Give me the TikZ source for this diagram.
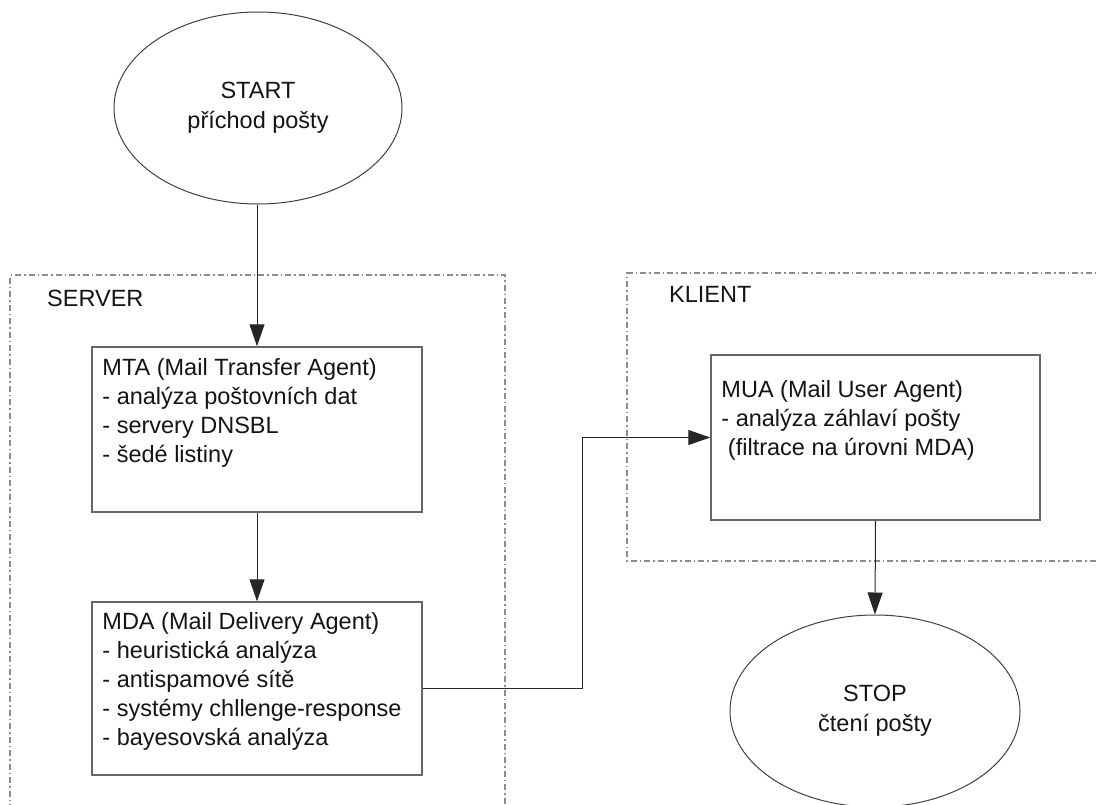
\documentclass[tikz,border=0pt]{standalone}
\usepackage{fontspec}
\setmainfont{Liberation Sans}
\usetikzlibrary{shapes.geometric,arrows.meta}

\tikzset{
  txt/.style={text=black!92, font=\fontsize{23.5}{29}\selectfont, inner sep=0pt},
  terminal/.style={ellipse, draw=black!75, line width=1pt, minimum width=288pt,
    minimum height=192pt, inner sep=0pt, align=center, txt},
  stepbox/.style={rectangle, draw=black!60, line width=1.5pt, inner sep=0pt},
  region/.style={draw=black!45, line width=1.2pt,
    dash pattern=on 6pt off 3pt on 1.5pt off 3pt},
  flow/.style={draw=black!85, line width=1pt,
    -{Triangle[length=22pt,width=15pt]}},
}

\begin{document}
\begin{tikzpicture}[x=1pt,y=-1pt]
  \useasboundingbox (0,0) rectangle (1098,804);

  % server and client areas
  \draw[region] (10,810) -- (10,275) -- (505,275) -- (505,810);
  \draw[region] (1105,273) -- (627,273) -- (627,561) -- (1105,561);
  \node[txt, anchor=west] (srvlabel) at (47,298) {SERVER};
  \node[txt, anchor=west] (klilabel) at (669,294) {KLIENT};

  % start and stop terminals
  \node[terminal] (start) at (258,108) {START\\[1pt]příchod pošty};
  \node[terminal, minimum width=290pt] (stop) at (875,711) {STOP\\[1pt]čtení pošty};

  % processing boxes
  \node[stepbox, minimum width=330pt, minimum height=165pt] (mta) at (257,429.5) {};
  \node[stepbox, minimum width=330pt, minimum height=173pt] (mda) at (257,688.5) {};
  \node[stepbox, minimum width=329pt, minimum height=165pt] (mua) at (875.5,437.5) {};

  \node[txt, anchor=north west, align=left] (mtatext) at ([shift={(11,12)}]mta.north west)
    {MTA (Mail Transfer Agent)\\- analýza poštovních dat\\- servery DNSBL\\- šedé listiny};
  \node[txt, anchor=north west, align=left] (mdatext) at ([shift={(11,11)}]mda.north west)
    {MDA (Mail Delivery Agent)\\- heuristická analýza\\- antispamové sítě\\- systémy chllenge-response\\- bayesovská analýza};
  \node[txt, anchor=north west, align=left] (muatext) at ([shift={(11,26)}]mua.north west)
    {MUA (Mail User Agent)\\- analýza záhlaví pošty\\\ (filtrace na úrovni MDA)};

  % connectors
  \coordinate (jog) at (582,560);
  \draw[flow] (start.south -| mta.north) -- (mta.north);
  \draw[flow] (mta.south) -- (mda.north);
  \draw[flow] (mda.east) -- (mda.east -| jog) -- (jog |- mua.west) -- (mua.west);
  \draw[flow] (mua.south) -- (stop.north);
\end{tikzpicture}
\end{document}
